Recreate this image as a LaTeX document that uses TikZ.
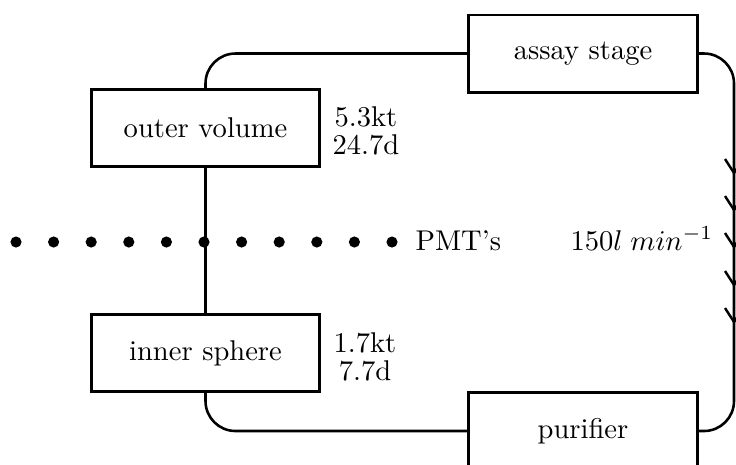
\documentclass[tikz,border=0pt]{standalone}
\begin{document}
\begin{tikzpicture}[x=0.35pt,y=-0.35pt,
  box/.style={draw,line width=1pt,minimum width=80pt,minimum height=27pt,inner sep=0pt,font=\fontsize{10}{12}\selectfont},
  flow/.style={line width=0.9pt,rounded corners=10.5pt},
  lab/.style={align=center,font=\fontsize{10}{9.6}\selectfont,inner sep=0pt},
  txt/.style={anchor=base west,inner sep=0pt,font=\fontsize{10}{12}\selectfont},
  pmt/.style={circle,fill,inner sep=0pt,minimum size=3.9pt},
  chev/.style={line width=0.85pt}]
\useasboundingbox (0,0) rectangle (736,464);
\node[box] (ov) at (205.5,128) {outer volume};
\node[box] (is) at (205.5,353) {inner sphere};
\node[box] (as) at (583,53.5) {assay stage};
\node[box] (pu) at (583,431) {purifier};
\node[lab] (ovl) at (366,131) {5.3kt\\24.7d};
\node[lab] (isl) at (365,357) {1.7kt\\7.7d};
\foreach \i in {0,...,10} \node[pmt] (d\i) at (16+37.6*\i,242) {};
\node[txt] (pmtl) at (415,250) {PMT's};
\node[txt] (rate) at (570,250) {$150l\;min^{-1}$};
\draw[flow] (ov.north) |- (as.west);
\draw[flow] (is.south) |- (pu.west);
\draw[line width=0.9pt] (ov.south) -- (is.north);
\coordinate (rc) at (734,0);
\draw[flow] (as.east) -- (as.east -| rc) -- (pu.east -| rc) -- (pu.east);
\foreach \y in {167,204,241,279,316}
  \draw[chev] (725,\y-8) -- (734,\y+6) -- (743,\y-8);
\end{tikzpicture}
\end{document}
